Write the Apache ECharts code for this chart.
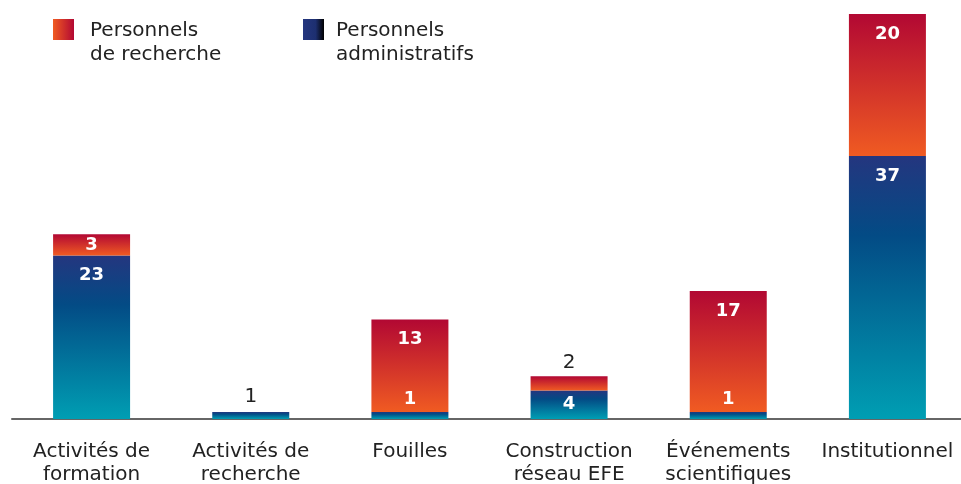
<!DOCTYPE html>
<html>
<head>
<meta charset="utf-8">
<script src="https://cdn.jsdelivr.net/npm/echarts@6/dist/echarts.min.js"></script>
<style>
  html, body { margin: 0; padding: 0; background: #fff; }
  #chart { width: 961px; height: 484px; }
</style>
</head>
<body>
<div id="chart"></div>
<script>
const categories = [
  "Activités de\nformation",
  "Activités de\nrecherche",
  "Fouilles",
  "Construction\nréseau EFE",
  "Événements\nscientifiques",
  "Institutionnel"
];
const adminValues = [23, 1, 1, 4, 1, 37];
const rechercheValues = [3, 0, 13, 2, 17, 20];

const FONT = "DejaVu Sans";

const blueGrad = {
  type: "linear", x: 0, y: 0, x2: 0, y2: 1,
  colorStops: [
    { offset: 0, color: "#24367f" },
    { offset: 0.3, color: "#034b85" },
    { offset: 1, color: "#009eb3" }
  ]
};
const redGrad = {
  type: "linear", x: 0, y: 0, x2: 0, y2: 1,
  colorStops: [
    { offset: 0, color: "#b20833" },
    { offset: 1, color: "#f05b22" }
  ]
};

const whiteLabel = { color: "#fff", fontWeight: "bold", fontSize: 18, fontFamily: FONT };
const darkLabel = { color: "#222", fontWeight: "normal", fontSize: 20, fontFamily: FONT };

// label placement: small bars get the number above, big ones inside near the top
const adminData = adminValues.map((v, i) => {
  let label;
  if (v <= 1) {
    const over = rechercheValues[i] > 0;
    label = Object.assign({ show: true, position: "top", distance: over ? 4 : 5 }, over ? whiteLabel : darkLabel);
  } else if (v <= 5) {
    label = Object.assign({ show: true, position: "inside" }, whiteLabel);
  } else {
    label = Object.assign({ show: true, position: "insideTop", distance: 11 }, whiteLabel);
  }
  return { value: v, label };
});
const rechercheData = rechercheValues.map((v) => {
  let label;
  if (v === 0) label = { show: false };
  else if (v <= 2) label = Object.assign({ show: true, position: "top", distance: 4 }, darkLabel);
  else if (v <= 5) label = Object.assign({ show: true, position: "inside" }, whiteLabel);
  else label = Object.assign({ show: true, position: "insideTop", distance: 11 }, whiteLabel);
  return { value: v, label };
});

const legendText = { fontSize: 20, fontFamily: FONT, fill: "#222", lineHeight: 24 };

const chart = echarts.init(document.getElementById("chart"));
chart.setOption({
  animation: false,
  grid: { left: 12, right: -6, top: 14, bottom: 65, outerBoundsMode: "none" },
  xAxis: {
    type: "category",
    data: categories,
    axisLine: { lineStyle: { color: "#666", width: 2 } },
    axisTick: { show: false },
    axisLabel: {
      color: "#222",
      fontSize: 20,
      fontFamily: FONT,
      lineHeight: 23,
      margin: 21,
      interval: 0
    }
  },
  yAxis: { type: "value", show: false, min: 0, max: 57 },
  series: [
    {
      name: "Personnels administratifs",
      type: "bar",
      stack: "total",
      barWidth: 77,
      itemStyle: { color: blueGrad },
      data: adminData
    },
    {
      name: "Personnels de recherche",
      type: "bar",
      stack: "total",
      barWidth: 77,
      itemStyle: { color: redGrad },
      data: rechercheData
    }
  ],
  graphic: [
    {
      type: "rect", left: 53, top: 19, shape: { width: 21, height: 21 },
      style: { fill: { type: "linear", x: 0, y: 0, x2: 1, y2: 0,
        colorStops: [{ offset: 0, color: "#f05b22" }, { offset: 1, color: "#b20833" }] } }
    },
    {
      type: "text", left: 90, top: 19,
      style: Object.assign({ text: "Personnels\nde recherche" }, legendText)
    },
    {
      type: "rect", left: 303, top: 19, shape: { width: 21, height: 21 },
      style: { fill: { type: "linear", x: 0, y: 0, x2: 1, y2: 0,
        colorStops: [{ offset: 0, color: "#24367f" }, { offset: 0.6, color: "#1d2f70" }, { offset: 1, color: "#000" }] } }
    },
    {
      type: "text", left: 336, top: 19,
      style: Object.assign({ text: "Personnels\nadministratifs" }, legendText)
    }
  ]
});
</script>
</body>
</html>
